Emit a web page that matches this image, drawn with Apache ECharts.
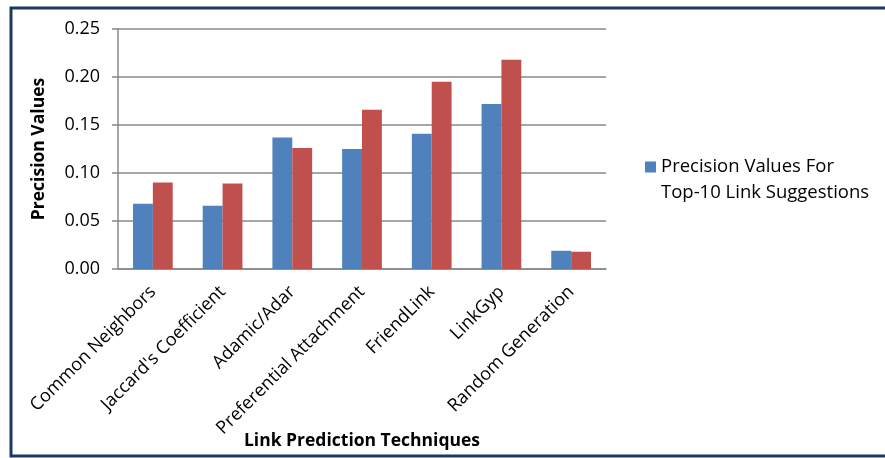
<!DOCTYPE html>
<html>
<head>
<meta charset="utf-8">
<script src="https://cdn.jsdelivr.net/npm/echarts@6/dist/echarts.min.js"></script>
<style>
html,body{margin:0;padding:0;background:#fff;}
#chart{width:885px;height:458px;}
</style>
</head>
<body>
<div id="chart"></div>
<script>
var categories = ["Common Neighbors", "Jaccard's Coefficient", "Adamic/Adar", "Preferential Attachment", "FriendLink", "LinkGyp", "Random Generation"];
var top10Values = [0.068, 0.066, 0.137, 0.125, 0.141, 0.172, 0.019];
var secondValues = [0.090, 0.089, 0.126, 0.166, 0.195, 0.218, 0.018];
var yTicks = [0, 0.05, 0.10, 0.15, 0.20, 0.25];
var legendName = 'Precision Values For\nTop-10 Link Suggestions';

var FONT = "Open Sans";
var chart = echarts.init(document.getElementById('chart'), null, {renderer: 'canvas'});
chart.setOption({
  backgroundColor: '#ffffff',
  animation: false,
  textStyle: {fontFamily: FONT},
  graphic: [{
    type: 'rect',
    shape: {x: 11, y: 8, width: 1000, height: 448},
    style: {fill: 'none', stroke: '#1B3A5E', lineWidth: 3},
    silent: true
  }],
  grid: {left: 118, right: 279, top: 29, bottom: 189, containLabel: false, outerBoundsMode: 'none'},
  legend: {
    data: [legendName],
    left: 640,
    top: 123,
    orient: 'vertical',
    icon: 'rect',
    itemWidth: 11,
    itemHeight: 11,
    selectedMode: false,
    formatter: function (name) { return ' \n' + name; },
    textStyle: {fontFamily: FONT, fontSize: 18.5, color: '#000', lineHeight: 26}
  },
  xAxis: {
    type: 'category',
    data: categories,
    name: 'Link Prediction Techniques',
    nameLocation: 'middle',
    nameGap: 163,
    nameMoveOverlap: false,
    nameTextStyle: {fontFamily: FONT, fontSize: 17.5, fontWeight: 'bold', color: '#000'},
    axisLine: {lineStyle: {color: '#888888', width: 1.5}},
    axisTick: {show: false},
    axisLabel: {interval: 0, rotate: 45, margin: 20, fontFamily: FONT, fontSize: 18, color: '#000'}
  },
  yAxis: {
    type: 'value',
    min: 0,
    max: yTicks[yTicks.length - 1],
    interval: 0.05,
    name: 'Precision Values',
    nameLocation: 'middle',
    nameGap: 70,
    nameMoveOverlap: false,
    nameTextStyle: {fontFamily: FONT, fontSize: 17.5, fontWeight: 'bold', color: '#000'},
    axisLine: {show: true, lineStyle: {color: '#888888', width: 1.5}},
    axisTick: {show: true, length: 6, lineStyle: {color: '#888888', width: 1.5}},
    splitLine: {lineStyle: {color: '#888888', width: 1.5}},
    axisLabel: {
      margin: 18, fontFamily: FONT, fontSize: 18, color: '#000',
      formatter: function (v) { return v.toFixed(2); }
    }
  },
  series: [{
    name: legendName,
    type: 'bar',
    data: top10Values,
    barGap: '0%',
    barCategoryGap: '43%',
    itemStyle: {color: '#4F81BD'}
  }, {
    name: 'Series 2',
    type: 'bar',
    data: secondValues,
    barGap: '0%',
    barCategoryGap: '43%',
    itemStyle: {color: '#C0504D'}
  }]
});
</script>
</body>
</html>
